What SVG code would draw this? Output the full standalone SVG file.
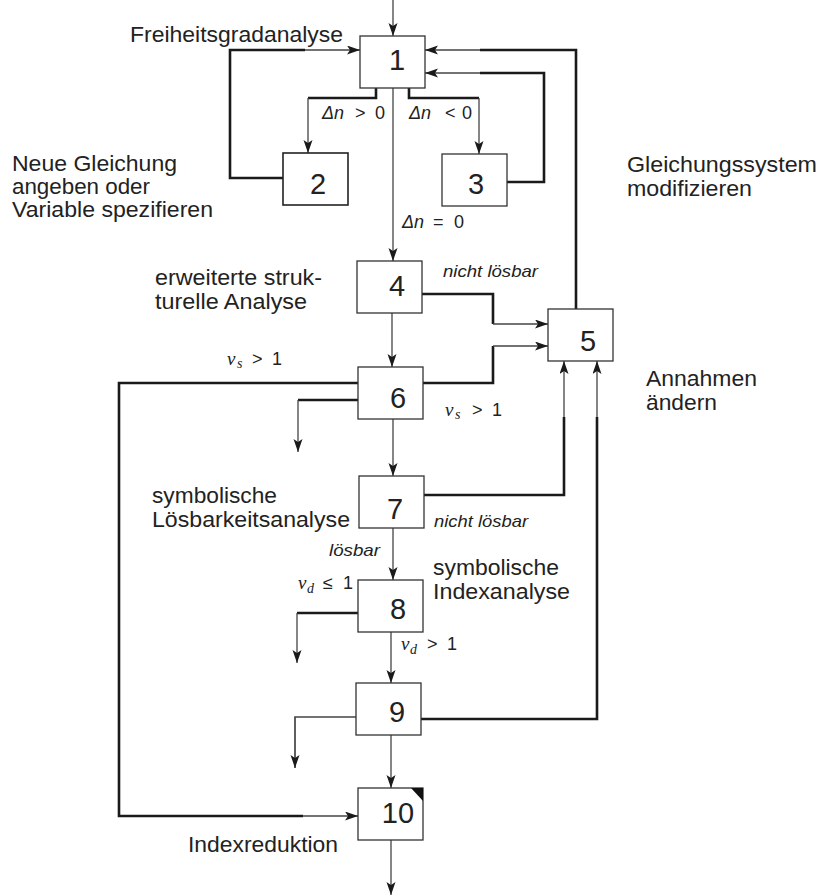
<svg xmlns="http://www.w3.org/2000/svg" width="819" height="896" viewBox="0 0 819 896">
<style>
.box{fill:#fff;stroke:#333;stroke-width:1.3}
.num{font-family:"Liberation Sans",Arial,sans-serif;font-size:29px;fill:#222;text-anchor:middle}
.lbl{font-family:"Liberation Sans",Arial,sans-serif;font-size:22px;fill:#222}
.it{font-family:"Liberation Sans",Arial,sans-serif;font-size:17px;font-style:italic;fill:#222}
.m{font-family:"Liberation Sans",Arial,sans-serif;font-size:18px;fill:#222}
.g{font-family:"Liberation Serif","Times New Roman",serif;font-style:italic;fill:#222}
.thk{fill:none;stroke:#1a1a1a;stroke-width:2.6}
.thn{fill:none;stroke:#444;stroke-width:1.3}
.arr{marker-end:url(#ah)}
</style>
<defs>
<marker id="ah" markerUnits="userSpaceOnUse" markerWidth="14" markerHeight="10" refX="13" refY="4.5" orient="auto">
<path d="M0,0 L13,4.5 L0,9 L3,4.5 z" fill="#1a1a1a"/>
</marker>
</defs>

<g id="connectors">
<path class="thn arr" d="M393,0 V36"/>
<path class="thk" d="M283,178 H230 V50 H305"/>
<path class="thn arr" d="M305,50 H360"/>
<path class="thk" d="M376,88 V98 H308"/>
<path class="thn arr" d="M308,98 V153"/>
<path class="thk" d="M409,88 V98 H479"/>
<path class="thn arr" d="M479,98 V154"/>
<path class="thn arr" d="M393,88 V261"/>
<path class="thk" d="M507,182 H544 V73 H480"/>
<path class="thn arr" d="M480,73 H425"/>
<path class="thk" d="M576,309 V50 H480"/>
<path class="thn arr" d="M480,50 H425"/>
<path class="thk" d="M422,294 H493 V324"/>
<path class="thn arr" d="M493,324 H548"/>
<path class="thk" d="M423,383 H493 V346"/>
<path class="thn arr" d="M493,346 H548"/>
<path class="thn arr" d="M392,313 V367"/>
<path class="thk" d="M358,383 H119 V816 H303"/>
<path class="thn arr" d="M303,816 H358"/>
<path class="thk" d="M358,400 H298"/>
<path class="thn arr" d="M298,400 V452"/>
<path class="thn arr" d="M393,418 V476"/>
<path class="thk" d="M424,495 H564 V417"/>
<path class="thn arr" d="M564,417 V361"/>
<path class="thk" d="M421,719 H597 V417"/>
<path class="thn arr" d="M597,417 V361"/>
<path class="thn arr" d="M393,528 V580"/>
<path class="thk" d="M358,613 H297"/>
<path class="thn arr" d="M297,613 V663"/>
<path class="thn arr" d="M391,632 V683"/>
<path class="thn arr" d="M356,717 H295 V768" style="stroke-width:1.7"/>
<path class="thn arr" d="M391,735 V788"/>
<path class="thn arr" d="M391,840 V895"/>
</g>

<g id="n1"><rect class="box" x="360" y="36" width="65" height="52"/><text class="num" x="397" y="70">1</text></g>
<g id="n2"><rect class="box" x="283" y="153" width="65" height="52" style="stroke:#222;stroke-width:1.6"/><text class="num" x="318" y="194">2</text></g>
<g id="n3"><rect class="box" x="442" y="154" width="65" height="52"/><text class="num" x="476" y="194">3</text></g>
<g id="n4"><rect class="box" x="357" y="261" width="65" height="52"/><text class="num" x="397" y="296">4</text></g>
<g id="n5"><rect class="box" x="548" y="309" width="65" height="52"/><text class="num" x="588" y="351">5</text></g>
<g id="n6"><rect class="box" x="358" y="367" width="65" height="52"/><text class="num" x="398" y="408">6</text></g>
<g id="n7"><rect class="box" x="359" y="476" width="65" height="52"/><text class="num" x="395" y="519">7</text></g>
<g id="n8"><rect class="box" x="358" y="580" width="65" height="52"/><text class="num" x="398" y="619">8</text></g>
<g id="n9"><rect class="box" x="356" y="683" width="65" height="52"/><text class="num" x="397" y="722">9</text></g>
<g id="n10"><rect class="box" x="358" y="788" width="65" height="52"/><polygon points="411,788 423,788 423,801" fill="#111"/><text class="num" x="398" y="823">10</text></g>

<g id="labels">
<text class="lbl" x="130" y="42" textLength="213" lengthAdjust="spacingAndGlyphs">Freiheitsgradanalyse</text>
<text class="lbl" x="12" y="171" textLength="165" lengthAdjust="spacingAndGlyphs">Neue Gleichung</text>
<text class="lbl" x="12" y="194" textLength="138" lengthAdjust="spacingAndGlyphs">angeben oder</text>
<text class="lbl" x="12" y="217" textLength="201" lengthAdjust="spacingAndGlyphs">Variable spezifieren</text>
<text class="lbl" x="627" y="172" textLength="190" lengthAdjust="spacingAndGlyphs">Gleichungssystem</text>
<text class="lbl" x="627" y="196" textLength="125" lengthAdjust="spacingAndGlyphs">modifizieren</text>
<text class="lbl" x="155" y="285" textLength="167" lengthAdjust="spacingAndGlyphs">erweiterte struk-</text>
<text class="lbl" x="155" y="309" textLength="152" lengthAdjust="spacingAndGlyphs">turelle Analyse</text>
<text class="lbl" x="646" y="386" textLength="111" lengthAdjust="spacingAndGlyphs">Annahmen</text>
<text class="lbl" x="646" y="410" textLength="71" lengthAdjust="spacingAndGlyphs">ändern</text>
<text class="lbl" x="152" y="503" textLength="125" lengthAdjust="spacingAndGlyphs">symbolische</text>
<text class="lbl" x="152" y="527" textLength="198" lengthAdjust="spacingAndGlyphs">Lösbarkeitsanalyse</text>
<text class="lbl" x="433" y="575" textLength="126" lengthAdjust="spacingAndGlyphs">symbolische</text>
<text class="lbl" x="433" y="599" textLength="137" lengthAdjust="spacingAndGlyphs">Indexanalyse</text>
<text class="lbl" x="188" y="852" textLength="150" lengthAdjust="spacingAndGlyphs">Indexreduktion</text>

<text class="it" x="443" y="277" textLength="95" lengthAdjust="spacingAndGlyphs">nicht lösbar</text>
<text class="it" x="434" y="527" textLength="94" lengthAdjust="spacingAndGlyphs">nicht lösbar</text>
<text class="it" x="329" y="556" textLength="51" lengthAdjust="spacingAndGlyphs">lösbar</text>

<text class="m" y="119"><tspan x="322" font-style="italic">Δn</tspan><tspan x="355">&gt;</tspan><tspan x="375">0</tspan></text>
<text class="m" y="119"><tspan x="409" font-style="italic">Δn</tspan><tspan x="445">&lt;</tspan><tspan x="462">0</tspan></text>
<text class="m" y="228"><tspan x="402" font-style="italic">Δn</tspan><tspan x="433">=</tspan><tspan x="454">0</tspan></text>

<text y="365"><tspan class="g" x="227" font-size="19">ν</tspan><tspan class="g" x="237" dy="3" font-size="14">s</tspan><tspan class="m" x="252" dy="-3">&gt;</tspan><tspan class="m" x="272">1</tspan></text>
<text y="416"><tspan class="g" x="445" font-size="19">ν</tspan><tspan class="g" x="455" dy="3" font-size="14">s</tspan><tspan class="m" x="472" dy="-3">&gt;</tspan><tspan class="m" x="492">1</tspan></text>
<text y="589"><tspan class="g" x="298" font-size="19">ν</tspan><tspan class="g" x="307" dy="4" font-size="14">d</tspan><tspan class="m" x="323" dy="-4">≤</tspan><tspan class="m" x="343">1</tspan></text>
<text y="650"><tspan class="g" x="401" font-size="19">ν</tspan><tspan class="g" x="410" dy="4" font-size="14">d</tspan><tspan class="m" x="427" dy="-4">&gt;</tspan><tspan class="m" x="447">1</tspan></text>
</g>
</svg>
